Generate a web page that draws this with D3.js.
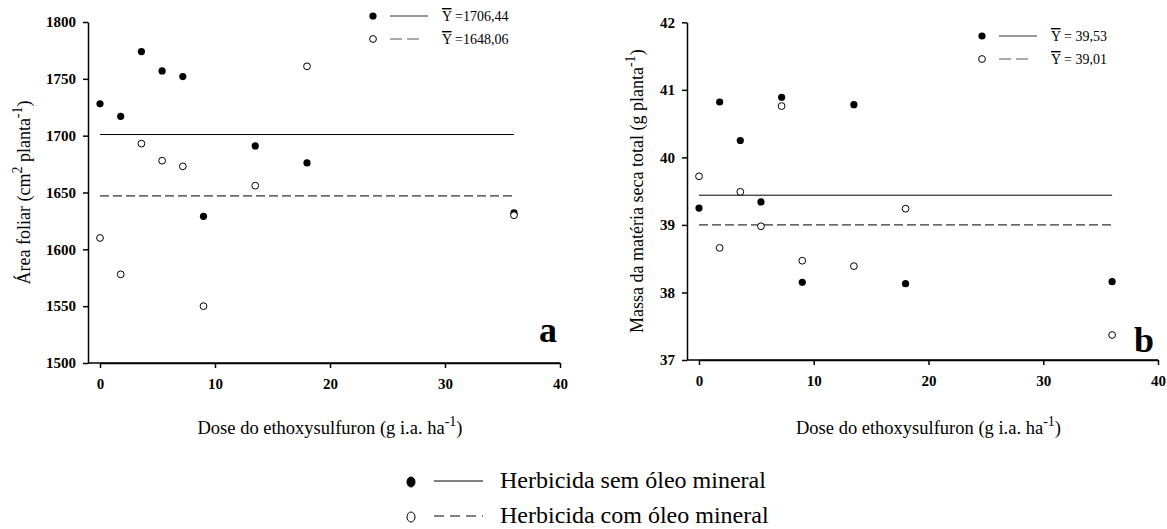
<!doctype html>
<html>
<head>
<meta charset="utf-8">
<script src="https://cdn.jsdelivr.net/npm/d3@7"></script>
<style>
  body { margin: 0; background: #fff; }
  svg { display: block; }
  text { font-family: "Liberation Serif", "Times New Roman", serif; fill: #000; }
</style>
</head>
<body>
<svg width="1167" height="529"></svg>
<script>
// doses (g i.a. ha-1)
var doses = [0, 1.8, 3.6, 5.4, 7.2, 9, 13.5, 18, 36];

// panel a: area foliar
var areaSem = [1728, 1717, 1774, 1757, 1752, 1629, 1691, 1676, 1632];
var areaCom = [1610, 1578, 1693, 1678, 1673, 1550, 1656, 1761, 1630];
var areaMeans = [1701, 1647];
var areaLabels = ["=1706,44", "=1648,06"];
var areaTicks = [1500, 1550, 1600, 1650, 1700, 1750, 1800];

// panel b: massa da materia seca total
var massaSem = [39.25, 40.82, 40.25, 39.34, 40.89, 38.15, 40.78, 38.13, 38.16];
var massaCom = [39.72, 38.66, 39.49, 38.98, 40.76, 38.47, 38.39, 39.24, 37.37];
var massaMeans = [39.44, 39.0];
var massaLabels = ["= 39,53", "= 39,01"];
var massaTicks = [37, 38, 39, 40, 41, 42];

var xTicks = [0, 10, 20, 30, 40];
var xTitle = "Dose do ethoxysulfuron (g i.a. ha";
var legendNames = ["Herbicida sem óleo mineral", "Herbicida com óleo mineral"];

var svg = d3.select("svg");

function styleAxis(sel) {
  sel.selectAll("text")
    .style("font-family", "'Liberation Serif', serif")
    .style("font-weight", "bold")
    .style("font-size", "15px");
  sel.selectAll("line, path").attr("stroke", "#000").attr("stroke-width", 1.5);
}

function panel(opt) {
  var x = d3.scaleLinear().domain([0, 40]).range(opt.xr);
  var y = d3.scaleLinear().domain(opt.yd).range(opt.yr);
  var g = svg.append("g");

  // axes
  g.append("g")
    .attr("transform", "translate(" + opt.ax + ",0)")
    .call(d3.axisLeft(y).tickValues(opt.yTicks).tickFormat(d3.format("d"))
      .tickSize(5).tickPadding(7).tickSizeOuter(0))
    .call(styleAxis);
  g.append("g")
    .attr("transform", "translate(0," + opt.yr[0] + ")")
    .call(d3.axisBottom(x).tickValues(xTicks).tickFormat(d3.format("d"))
      .tickSize(5).tickPadding(10).tickSizeOuter(0))
    .call(styleAxis);
  // extend x axis line to the y axis
  g.append("line")
    .attr("x1", opt.ax).attr("x2", opt.xr[1])
    .attr("y1", opt.yr[0]).attr("y2", opt.yr[0])
    .attr("stroke", "#000").attr("stroke-width", 1.5);

  // mean lines
  g.append("line")
    .attr("x1", x(0)).attr("x2", x(36))
    .attr("y1", y(opt.means[0])).attr("y2", y(opt.means[0]))
    .attr("stroke", "#000").attr("stroke-width", 1);
  g.append("line")
    .attr("x1", x(0)).attr("x2", x(36))
    .attr("y1", y(opt.means[1])).attr("y2", y(opt.means[1]))
    .attr("stroke", "#000").attr("stroke-width", 1)
    .attr("stroke-dasharray", "9,4");

  // points
  g.selectAll("circle.sem")
    .data(doses)
    .enter()
    .append("circle")
    .attr("class", "sem")
    .attr("r", 3.6)
    .attr("cx", function(d) { return x(d); })
    .attr("cy", function(d, i) { return y(opt.sem[i]); })
    .attr("fill", "#000");
  g.selectAll("circle.com")
    .data(doses)
    .enter()
    .append("circle")
    .attr("class", "com")
    .attr("r", 3.4)
    .attr("cx", function(d) { return x(d); })
    .attr("cy", function(d, i) { return y(opt.com[i]); })
    .attr("fill", "#fff")
    .attr("stroke", "#000")
    .attr("stroke-width", 1);

  // titles
  var xt = g.append("text")
    .attr("x", x(20)).attr("y", opt.xTitleY)
    .attr("text-anchor", "middle")
    .style("font-size", "18.5px")
    .text(xTitle);
  xt.append("tspan").attr("dy", -8).style("font-size", "14px").text("-1");
  xt.append("tspan").attr("dy", 8).text(")");

  var yt = g.append("text")
    .attr("transform", "translate(" + opt.yTitleX + "," + (opt.yr[0] + opt.yr[1]) / 2 + ") rotate(-90)")
    .attr("text-anchor", "middle")
    .style("font-size", "18px");
  yt.append("tspan").text(opt.yTitle[0]);
  if (opt.yTitle.length > 3) {
    yt.append("tspan").attr("dy", -8).style("font-size", "14px").text(opt.yTitle[1]);
    yt.append("tspan").attr("dy", 8).text(opt.yTitle[2]);
    yt.append("tspan").attr("dy", -8).style("font-size", "14px").text(opt.yTitle[3]);
    yt.append("tspan").attr("dy", 8).text(opt.yTitle[4]);
  } else {
    yt.append("tspan").attr("dy", -8).style("font-size", "14px").text(opt.yTitle[1]);
    yt.append("tspan").attr("dy", 8).text(opt.yTitle[2]);
  }

  // panel letter
  g.append("text")
    .attr("x", opt.letterX).attr("y", opt.letterY)
    .attr("text-anchor", "end")
    .style("font-size", "36px").style("font-weight", "bold")
    .text(opt.letter);

  // legend inside panel
  var lx = opt.legX, ly = opt.legY;
  [0, 1].forEach(function(k) {
    var yy = ly + k * 23;
    g.append("circle")
      .attr("cx", lx).attr("cy", yy).attr("r", k ? 3.4 : 3.6)
      .attr("fill", k ? "#fff" : "#000")
      .attr("stroke", "#000").attr("stroke-width", k ? 1 : 0);
    g.append("line")
      .attr("x1", lx + 17).attr("x2", lx + 55)
      .attr("y1", yy).attr("y2", yy)
      .attr("stroke", k ? "#555" : "#333").attr("stroke-width", 1)
      .attr("stroke-dasharray", k ? "12,5,12,10,1" : null);
    var t = g.append("text")
      .attr("x", lx + 69).attr("y", yy + 5)
      .style("font-size", "14px");
    t.append("tspan").style("text-decoration", "overline").text("Y");
    t.append("tspan").text(" " + opt.labels[k]);
  });
}

panel({
  xr: [100, 560], yr: [363, 22], yd: [1500, 1800], ax: 88,
  yTicks: areaTicks, sem: areaSem, com: areaCom, means: areaMeans, labels: areaLabels,
  xTitleY: 434, yTitleX: 30,
  yTitle: ["Área foliar (cm", "2", " planta", "-1", ")"],
  letter: "a", letterX: 557, letterY: 342,
  legX: 373, legY: 16
});

panel({
  xr: [699, 1158], yr: [360, 22.3], yd: [37, 42], ax: 687,
  yTicks: massaTicks, sem: massaSem, com: massaCom, means: massaMeans, labels: massaLabels,
  xTitleY: 434, yTitleX: 643,
  yTitle: ["Massa da matéria seca total (g planta", "-1", ")"],
  letter: "b", letterX: 1154, letterY: 352,
  legX: 982, legY: 36
});

// bottom legend
var leg = svg.append("g");
legendNames.forEach(function(name, k) {
  var yy = 481 + k * 35;
  leg.append("ellipse")
    .attr("cx", 411).attr("cy", yy + 1).attr("rx", 4).attr("ry", 5)
    .attr("fill", k ? "#fff" : "#000")
    .attr("stroke", "#000").attr("stroke-width", 1);
  leg.append("line")
    .attr("x1", 434).attr("x2", 483)
    .attr("y1", yy).attr("y2", yy)
    .attr("stroke", "#000").attr("stroke-width", 1)
    .attr("stroke-dasharray", k ? "10,6" : null);
  leg.append("text")
    .attr("x", 500).attr("y", yy + 7)
    .style("font-size", "24px")
    .text(name);
});
</script>
</body>
</html>
